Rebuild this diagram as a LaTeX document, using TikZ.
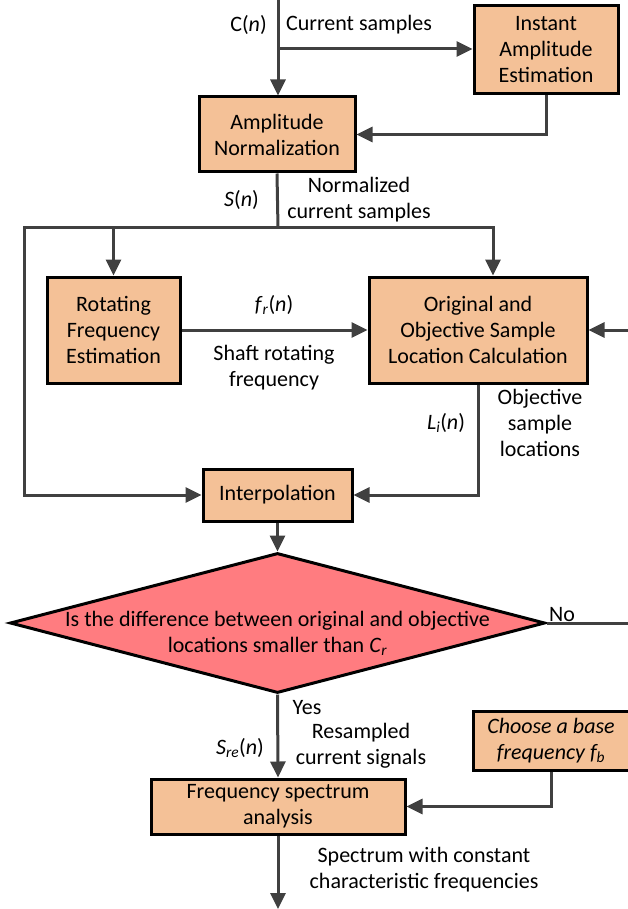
\documentclass[tikz,border=0pt]{standalone}
\usepackage{fontspec}
\setmainfont{Carlito}
\usetikzlibrary{arrows.meta,positioning,shapes.geometric}
\definecolor{bOrange}{RGB}{244,193,151}
\definecolor{dRed}{RGB}{255,124,128}
\definecolor{lGray}{RGB}{64,64,64}
\tikzset{
    blk/.style={rectangle, draw=black, line width=3pt, fill=bOrange, align=center, inner sep=0pt},
    dia/.style={diamond, draw=black, line width=3pt, fill=dRed, inner sep=0pt, aspect=3.82},
    arr/.style={draw=lGray, line width=3pt, -{Triangle[length=16pt,width=15pt]}},
    ln/.style={draw=lGray, line width=3pt},
    lbl/.style={align=center, inner sep=0pt}
}

\begin{document}
\begin{tikzpicture}[x=1pt,y=-1pt,font=\fontsize{22}{26}\selectfont]
\useasboundingbox (0,0) rectangle (628,909);
% blocks
\node[blk, minimum width=144, minimum height=88] (inst) at (546,50) {Instant\\Amplitude\\Estimation};
\node[blk, minimum width=156, minimum height=75] (norm) at (277,134.5) {Amplitude\\Normalization};
\node[blk, minimum width=133, minimum height=106] (rot) at (113.5,330) {Rotating\\Frequency\\Estimation};
\node[blk, minimum width=218, minimum height=106] (orig) at (478,330) {Original and\\Objective Sample\\Location Calculation};
\node[blk, minimum width=149, minimum height=52] (interp) at (277.5,495) {Interpolation};
\node[dia, minimum width=535, minimum height=140] (dec) at (277.5,623) {};
\node[lbl] (dtext) at (277.5,633) {Is the difference between original and objective\\locations smaller than \textit{C}\textsubscript{\textit{r}}};
\node[blk, minimum width=254, minimum height=55] (fsa) at (278,806.5) {Frequency spectrum\\analysis};
\node[blk, minimum width=156, minimum height=59, font=\fontsize{22}{26}\selectfont\itshape] (base) at (551,740.5) {Choose a base\\frequency \textit{f}\textsubscript{\textit{b}}};
% junctions
\coordinate (top) at (278,0);
\coordinate (split) at (278,49);
\coordinate (bus) at (278,228);
\coordinate (lft) at (24,228);
\coordinate (rin) at (628,330);
\coordinate (nout) at (628,623);
\coordinate (out) at (278,909);
% connectors
\draw[arr] (top) -- (top |- norm.north);
\draw[arr] (split) -- (split -| inst.west);
\draw[arr] (inst.south) |- (norm.east);
\draw[ln] (norm.south) -- (bus);
\draw[arr] (bus) -| (rot.north);
\draw[arr] (bus) -| ([xshift=15pt]orig.north);
\draw[arr] (bus) -- (lft) |- (interp.west);
\draw[arr] (rot) -- (orig);
\draw[arr] (rin) -- (orig.east);
\draw[arr] (orig.south) |- (interp.east);
\draw[arr] (interp.south) -- (dec.north);
\draw[ln] (dec.east) -- (nout);
\draw[arr] (dec.south) -- (fsa.north);
\draw[arr] (base.south) |- (fsa.east);
\draw[arr] (fsa.south) -- (out);
% labels
\node[lbl] (cn) at (248.5,25) {C(\textit{n})};
\node[lbl] (cs) at (359,25) {Current samples};
\node[lbl] (sn) at (241.5,200) {\textit{S}(\textit{n})};
\node[lbl] (ncs) at (359,200) {Normalized\\current samples};
\node[lbl] (frn) at (274,305) {\textit{f}\textsubscript{\textit{r}}(\textit{n})};
\node[lbl] (srf) at (274,368) {Shaft rotating\\frequency};
\node[lbl] (lin) at (446,423) {\textit{L}\textsubscript{\textit{i}}(\textit{n})};
\node[lbl] (osl) at (540,423) {Objective\\sample\\locations};
\node[lbl] (no) at (562,615) {No};
\node[lbl] (yes) at (307,708) {Yes};
\node[lbl] (srn) at (240,748) {\textit{S}\textsubscript{\textit{re}}(\textit{n})};
\node[lbl] (rcs) at (361,746) {Resampled\\current signals};
\node[lbl] (scf) at (424,870) {Spectrum with constant\\characteristic frequencies};
\end{tikzpicture}
\end{document}
